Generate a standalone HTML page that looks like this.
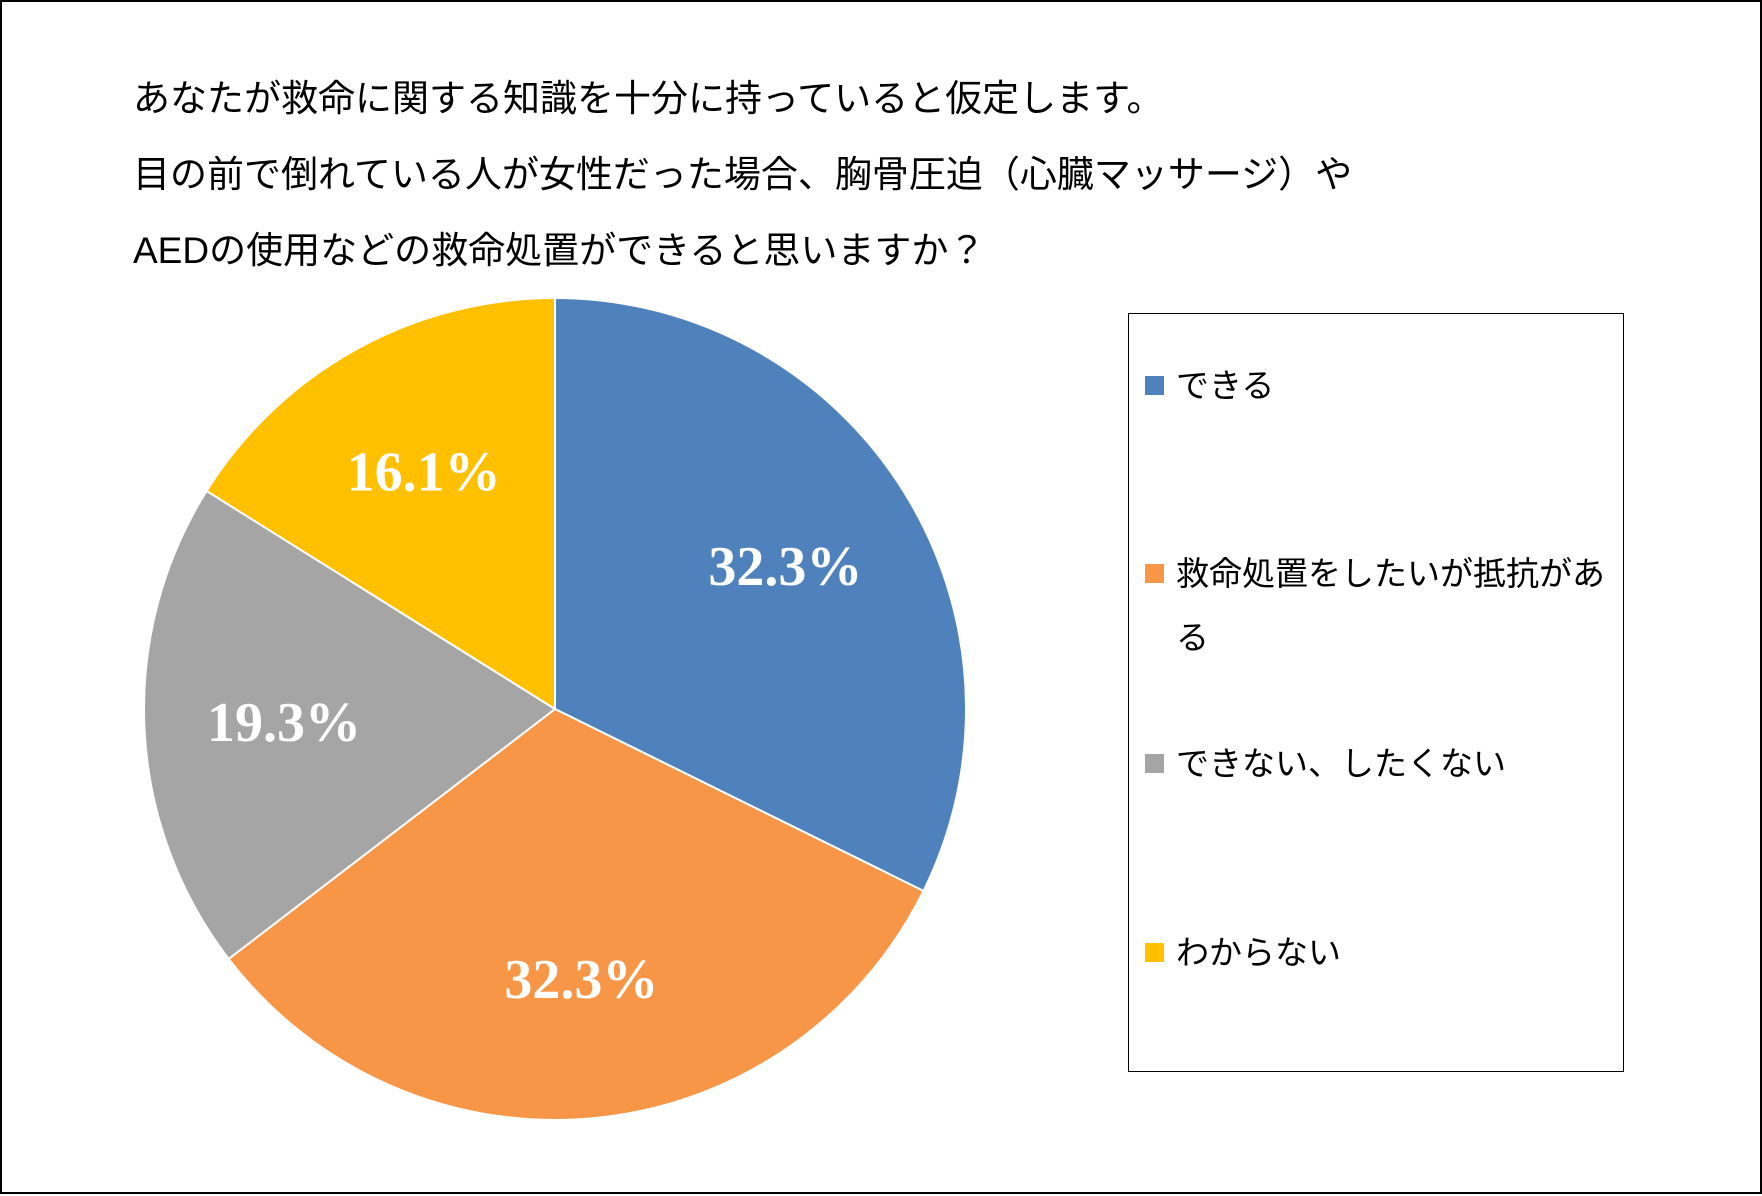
<!DOCTYPE html>
<html><head><meta charset="utf-8"><style>
body{margin:0;background:#fff;}
#wrap{position:relative;width:1762px;height:1194px;box-sizing:border-box;border:2px solid #000;background:#fff;font-family:"Liberation Sans","Noto Sans CJK JP",sans-serif;}
.t{position:absolute;left:131px;font-size:37px;color:#000;white-space:nowrap;}
#legend{position:absolute;left:1126px;top:311px;width:496px;height:759px;box-sizing:border-box;border:1.5px solid #000;}
.li{position:absolute;left:16px;font-size:33px;color:#000;width:460px;line-height:64px;}
.sw{position:absolute;left:0;width:19px;height:19px;}
.li span.tx{display:block;padding-left:31px;}
</style></head><body>
<div id="wrap">
<div class="t" style="top:66px">あなたが救命に関する知識を十分に持っていると仮定します。</div>
<div class="t" style="top:142px">目の前で倒れている人が女性だった場合、胸骨圧迫（心臓マッサージ）や</div>
<div class="t" style="top:218px">AEDの使用などの救命処置ができると思いますか？</div>
<svg id="pie" width="1762" height="1194" style="position:absolute;left:0;top:0"></svg>
<div id="legend">
 <div class="li" style="top:40px"><div class="sw" style="top:22px;background:#4F81BD"></div><span class="tx">できる</span></div>
 <div class="li" style="top:228px"><div class="sw" style="top:22px;background:#F79646"></div><span class="tx">救命処置をしたいが抵抗がある</span></div>
 <div class="li" style="top:418px"><div class="sw" style="top:22px;background:#A5A5A5"></div><span class="tx">できない、したくない</span></div>
 <div class="li" style="top:607px"><div class="sw" style="top:22px;background:#FFC000"></div><span class="tx">わからない</span></div>
</div>
</div>
<script>
const categories=["できる","救命処置をしたいが抵抗がある","できない、したくない","わからない"];
const values=[32.3,32.3,19.3,16.1];
const valueLabels=["32.3%","32.3%","19.3%","16.1%"];
const colors=["#4F81BD","#F79646","#A5A5A5","#FFC000"];
const svg=document.getElementById('pie');
const NS='http://www.w3.org/2000/svg';
const cx=553,cy=707,r=411;
const total=values.reduce((a,b)=>a+b,0);
function pt(frac,rad){const a=frac*2*Math.PI;return [cx+rad*Math.sin(a),cy-rad*Math.cos(a)];}
let acc=0;
values.forEach((v,i)=>{
 const s=acc/total,e=(acc+v)/total;acc+=v;
 const p1=pt(s,r),p2=pt(e,r);
 const large=(e-s)>0.5?1:0;
 const path=document.createElementNS(NS,'path');
 path.setAttribute('d',`M${cx},${cy}L${p1[0]},${p1[1]}A${r},${r} 0 ${large} 1 ${p2[0]},${p2[1]}Z`);
 path.setAttribute('fill',colors[i]);
 path.setAttribute('stroke','#fff');
 path.setAttribute('stroke-width','2');
 
 
 svg.appendChild(path);
 const m=pt((s+e)/2,r*0.66);
 const t=document.createElementNS(NS,'text');
 t.setAttribute('x',m[0]);t.setAttribute('y',m[1]+19);
 t.setAttribute('text-anchor','middle');
 t.setAttribute('font-family','"Liberation Serif",serif');
 t.setAttribute('font-weight','bold');
 t.setAttribute('font-size','56');
 t.setAttribute('fill','#fff');
 t.textContent=valueLabels[i];
 
 
 svg.appendChild(t);
});
</script>
</body></html>
